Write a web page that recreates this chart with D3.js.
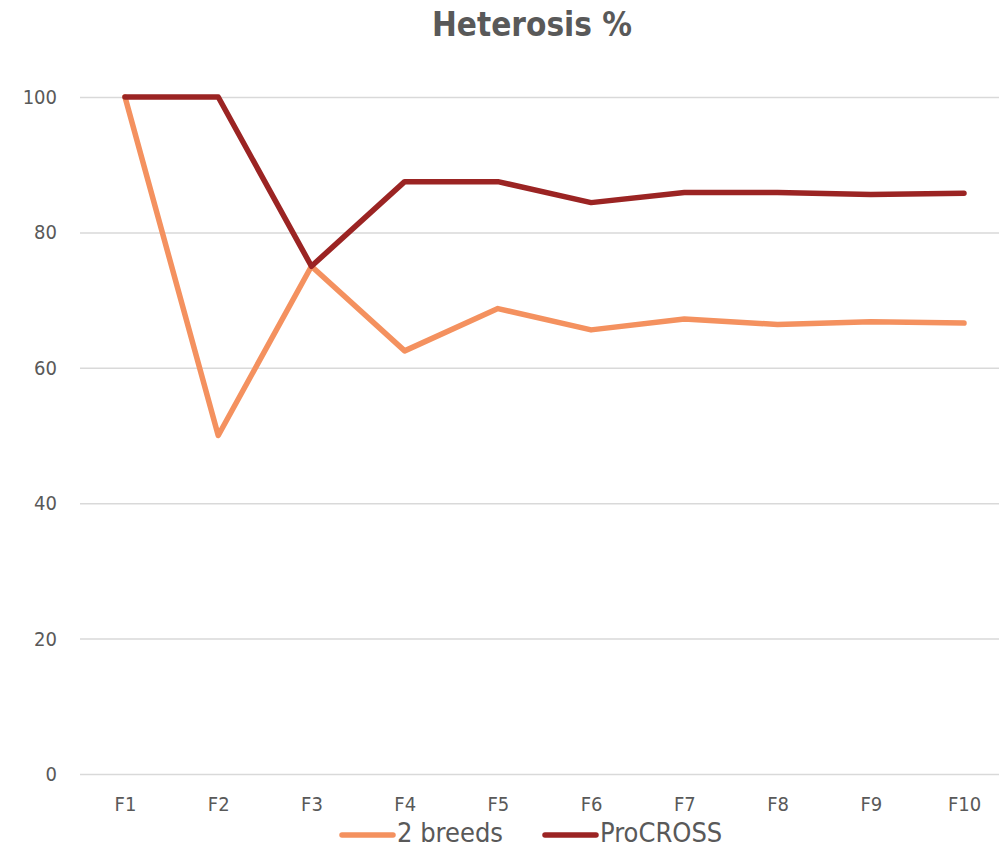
<!DOCTYPE html>
<html>
<head>
<meta charset="utf-8">
<script src="https://cdn.jsdelivr.net/npm/d3@7"></script>
<style>
  html, body { margin: 0; padding: 0; background: #fff; }
  svg { display: block; }
  text { font-family: "Liberation Sans Narrow", "DejaVu Sans Condensed", "Open Sans", sans-serif; }
</style>
</head>
<body>
<svg id="chart" width="999" height="849"></svg>
<script>
const categories = ["F1","F2","F3","F4","F5","F6","F7","F8","F9","F10"];
const twoBreeds = [100, 50, 75, 62.5, 68.75, 65.6, 67.2, 66.4, 66.8, 66.6];
const proCross = [100, 100, 75, 87.5, 87.5, 84.4, 85.9, 85.9, 85.6, 85.8];
const yTicks = [0, 20, 40, 60, 80, 100];
const seriesNames = ["2 breeds", "ProCROSS"];
const seriesColors = ["#F4915F", "#9B2423"];

const svg = d3.select("#chart");
const x = d3.scalePoint().domain(categories).range([125, 964]);
const y = d3.scaleLinear().domain([0, 100]).range([774, 97]);

// title
svg.append("text").attr("x", 532).attr("y", 36).attr("text-anchor", "middle")
  .attr("font-size", 33).attr("font-weight", "bold").attr("fill", "#595959")
  .text("Heterosis %");

// gridlines
const yAxis = d3.axisLeft(y).tickValues(yTicks).tickSize(-(999 - 80)).tickPadding(23).tickFormat(d3.format("d"));
const gy = svg.append("g").attr("transform", "translate(80,0)").call(yAxis);
gy.select(".domain").remove();
gy.selectAll(".tick line").attr("stroke", "#d9d9d9").attr("stroke-width", 1.5);
gy.selectAll(".tick text").attr("font-size", 20).attr("fill", "#595959");

// x axis labels
const xAxis = d3.axisBottom(x).tickSize(0).tickPadding(23);
const gx = svg.append("g").attr("transform", "translate(0,774)").call(xAxis);
gx.select(".domain").remove();
gx.selectAll(".tick text").attr("font-size", 20).attr("fill", "#595959");

const line = d3.line().x((d, i) => x(categories[i])).y(d => y(d));
[twoBreeds, proCross].forEach((s, k) => {
  svg.append("path").datum(s).attr("d", line).attr("fill", "none")
    .attr("stroke", seriesColors[k]).attr("stroke-width", 5.5)
    .attr("stroke-linejoin", "round").attr("stroke-linecap", "round");
});

// legend
const legendX = [340, 543];
seriesNames.forEach((n, k) => {
  const g = svg.append("g").attr("transform", `translate(${legendX[k]},835)`);
  g.append("line").attr("x1", 2).attr("x2", 53).attr("y1", 0).attr("y2", 0)
    .attr("stroke", seriesColors[k]).attr("stroke-width", 5.5).attr("stroke-linecap", "round");
  g.append("text").attr("x", 57).attr("y", 7).attr("font-size", 27).attr("fill", "#595959").text(n);
});
</script>
</body>
</html>
